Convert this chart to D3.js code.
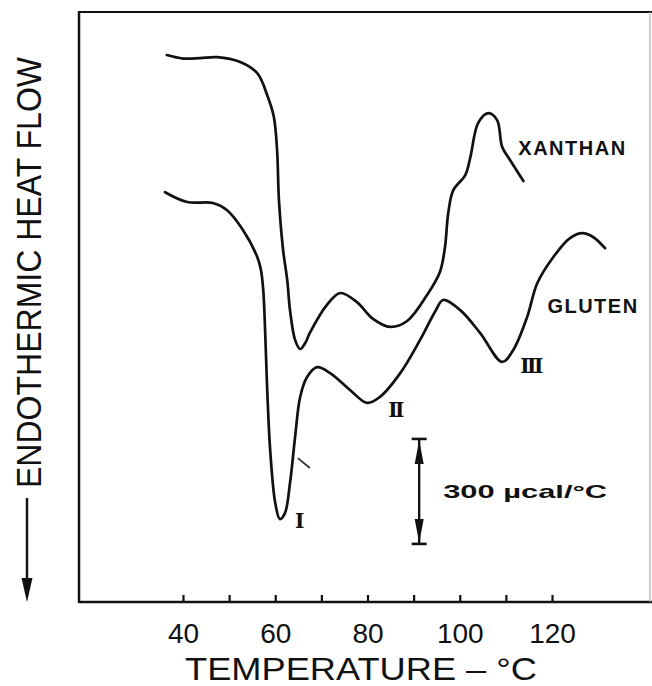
<!DOCTYPE html>
<html>
<head>
<meta charset="utf-8">
<script src="https://cdn.jsdelivr.net/npm/d3@7"></script>
<style>
  html, body { margin: 0; padding: 0; background: #fff; }
  svg { display: block; }
</style>
</head>
<body>
<svg id="chart" width="652" height="686"></svg>
<script>
// ---------------- DATA ----------------
// Temperature (°C) and heat flow (µcal/°C, arbitrary zero) for each trace
const xanthanTemp = [36.5, 40.0, 43.7, 47.4, 52.4, 56.1, 58.4, 59.7, 60.4, 60.8, 61.7, 62.6, 63.2, 64.3, 65.4, 66.5, 67.5, 71.2, 74.1, 77.7, 81.2, 84.9, 88.6, 92.9, 95.7, 96.8, 97.5, 98.6, 101.2, 102.3, 104.0, 106.2, 108.1, 109.2, 110.9, 113.8];
const xanthanFlow = [1563, 1553, 1554, 1557, 1543, 1511, 1443, 1386, 1291, 1149, 1006, 920, 834, 749, 723, 740, 769, 849, 883, 857, 809, 786, 803, 877, 943, 1014, 1111, 1177, 1220, 1271, 1369, 1397, 1377, 1300, 1263, 1203];

const glutenTemp = [36.1, 40.9, 46.5, 49.5, 53.0, 56.1, 56.9, 57.4, 57.8, 58.2, 58.9, 60.0, 61.0, 62.1, 63.2, 64.3, 65.4, 66.9, 69.1, 71.9, 76.2, 79.9, 82.7, 87.1, 91.4, 94.7, 96.4, 100.1, 104.4, 109.2, 111.6, 114.6, 116.8, 120.3, 123.9, 126.6, 128.9, 131.5];
const glutenFlow = [1171, 1143, 1140, 1120, 1063, 986, 949, 891, 777, 626, 434, 283, 237, 254, 340, 471, 586, 643, 671, 654, 606, 569, 586, 654, 749, 831, 863, 834, 769, 686, 720, 814, 911, 986, 1040, 1054, 1043, 1011];

const tickValues = [40, 50, 60, 70, 80, 90, 100, 110, 120];
const tickLabels = ["40", "", "60", "", "80", "", "100", "", "120"];

const seriesNames = ["XANTHAN", "GLUTEN"];
const seriesLabelTemp = [112.7, 119.0];
const seriesLabelFlow = [1277, 826];

const peakNames = ["I", "II", "III"];
const peakLabelTemp = [64.3, 84.5, 113.1];
const peakLabelFlow = [211, 529, 654];

const scaleBarTemp = 91.2;
const scaleBarFrom = 166;
const scaleBarSize = 300;          // µcal/°C
const scaleBarText = "300 µcal/°C";

const strayMarkTemp = [64.9, 67.5];
const strayMarkFlow = [411, 383];

const xTitle = "TEMPERATURE  –  °C";
const yTitle = "ENDOTHERMIC HEAT FLOW";

// ---------------- LAYOUT ----------------
const svg = d3.select("#chart");
const frame = { left: 79, right: 650, top: 12, bottom: 602 };

const x = d3.scaleLinear().domain([40, 120]).range([183, 552]);
const y = d3.scaleLinear().domain([0, 1686]).range([frame.bottom, frame.top]);

const ink = "#111";

// frame
svg.append("line").attr("x1", frame.left).attr("x2", frame.left)
  .attr("y1", frame.top - 1).attr("y2", frame.bottom + 1)
  .attr("stroke", ink).attr("stroke-width", 2.5);
svg.append("line").attr("x1", frame.left).attr("x2", 652)
  .attr("y1", frame.bottom).attr("y2", frame.bottom)
  .attr("stroke", ink).attr("stroke-width", 2.5);
svg.append("line").attr("x1", frame.left).attr("x2", 652)
  .attr("y1", frame.top).attr("y2", frame.top)
  .attr("stroke", ink).attr("stroke-width", 2.2);
svg.append("line").attr("x1", frame.right).attr("x2", frame.right)
  .attr("y1", frame.top).attr("y2", frame.bottom)
  .attr("stroke", "#aaa").attr("stroke-width", 1.2);

// x axis
const xAxis = d3.axisBottom(x)
  .tickValues(tickValues)
  .tickSize(-7)
  .tickPadding(21)
  .tickFormat((d, i) => tickLabels[i]);
const gx = svg.append("g").attr("transform", `translate(0,${frame.bottom})`).call(xAxis);
gx.select(".domain").remove();
gx.selectAll(".tick line").attr("stroke", ink).attr("stroke-width", 2.2);
gx.selectAll(".tick text")
  .attr("fill", ink)
  .style("font-family", "'Liberation Sans', Arial, sans-serif")
  .style("font-size", "28px");

// x title
svg.append("text")
  .attr("x", 185).attr("y", 680)
  .attr("textLength", 352).attr("lengthAdjust", "spacingAndGlyphs")
  .attr("fill", ink)
  .style("font-family", "'Liberation Sans', Arial, sans-serif")
  .style("font-size", "31px")
  .text(xTitle);

// y title (rotated)
svg.append("text")
  .attr("transform", "translate(41,488) rotate(-90)")
  .attr("textLength", 431).attr("lengthAdjust", "spacingAndGlyphs")
  .attr("fill", ink)
  .style("font-family", "'Liberation Sans', Arial, sans-serif")
  .style("font-size", "35px")
  .text(yTitle);

// y title arrow
svg.append("line").attr("x1", 27).attr("x2", 27).attr("y1", 498).attr("y2", 590)
  .attr("stroke", ink).attr("stroke-width", 2.4);
svg.append("path").attr("d", "M21.5,578 L32.5,578 L27,602 Z").attr("fill", ink);

// curves
const line = d3.line()
  .x(d => x(d[0]))
  .y(d => y(d[1]))
  .curve(d3.curveCatmullRom.alpha(0.5));

const xanthan = xanthanTemp.map((t, i) => [t, xanthanFlow[i]]);
const gluten = glutenTemp.map((t, i) => [t, glutenFlow[i]]);

[xanthan, gluten].forEach(s => {
  svg.append("path").datum(s).attr("d", line)
    .attr("fill", "none").attr("stroke", ink)
    .attr("stroke-width", 2.7).attr("stroke-linejoin", "round").attr("stroke-linecap", "round");
});

// stray pen mark
svg.append("line")
  .attr("x1", x(strayMarkTemp[0])).attr("y1", y(strayMarkFlow[0]))
  .attr("x2", x(strayMarkTemp[1])).attr("y2", y(strayMarkFlow[1]))
  .attr("stroke", "#333").attr("stroke-width", 1.8);

// series labels
seriesNames.forEach((n, i) => {
  svg.append("text")
    .attr("x", x(seriesLabelTemp[i])).attr("y", y(seriesLabelFlow[i]))
    .attr("fill", ink)
    .style("font-family", "'Liberation Sans', Arial, sans-serif")
    .style("font-weight", "bold")
    .style("font-size", "20px")
    .style("letter-spacing", "1.5px")
    .text(n);
});

// peak labels (Roman numerals)
peakNames.forEach((n, i) => {
  svg.append("text")
    .attr("x", x(peakLabelTemp[i])).attr("y", y(peakLabelFlow[i]))
    .attr("fill", ink)
    .style("font-family", "'DejaVu Serif', 'Liberation Serif', serif")
    .style("font-weight", "bold")
    .style("font-size", "20px")
    .style("letter-spacing", "-2.5px")
    .text(n);
});

// scale bar
const sbX = x(scaleBarTemp);
const sbTop = y(scaleBarFrom + scaleBarSize);
const sbBot = y(scaleBarFrom);
const sb = svg.append("g").attr("stroke", ink).attr("fill", ink);
sb.append("line").attr("x1", sbX).attr("x2", sbX).attr("y1", sbTop).attr("y2", sbBot).attr("stroke-width", 2.4);
sb.append("line").attr("x1", sbX - 7.5).attr("x2", sbX + 7.5).attr("y1", sbTop).attr("y2", sbTop).attr("stroke-width", 2.6);
sb.append("line").attr("x1", sbX - 7.5).attr("x2", sbX + 7.5).attr("y1", sbBot).attr("y2", sbBot).attr("stroke-width", 2.6);
sb.append("path").attr("stroke", "none")
  .attr("d", `M${sbX},${sbTop + 1} L${sbX - 4.5},${sbTop + 25} L${sbX + 4.5},${sbTop + 25} Z`);
sb.append("path").attr("stroke", "none")
  .attr("d", `M${sbX},${sbBot - 1} L${sbX - 4.5},${sbBot - 25} L${sbX + 4.5},${sbBot - 25} Z`);

svg.append("text")
  .attr("x", sbX + 24).attr("y", (sbTop + sbBot) / 2 + 7)
  .attr("textLength", 164).attr("lengthAdjust", "spacingAndGlyphs")
  .attr("fill", ink)
  .style("font-family", "'Liberation Sans', Arial, sans-serif")
  .style("font-weight", "bold")
  .style("font-size", "19px")
  .text(scaleBarText);
</script>
</body>
</html>
